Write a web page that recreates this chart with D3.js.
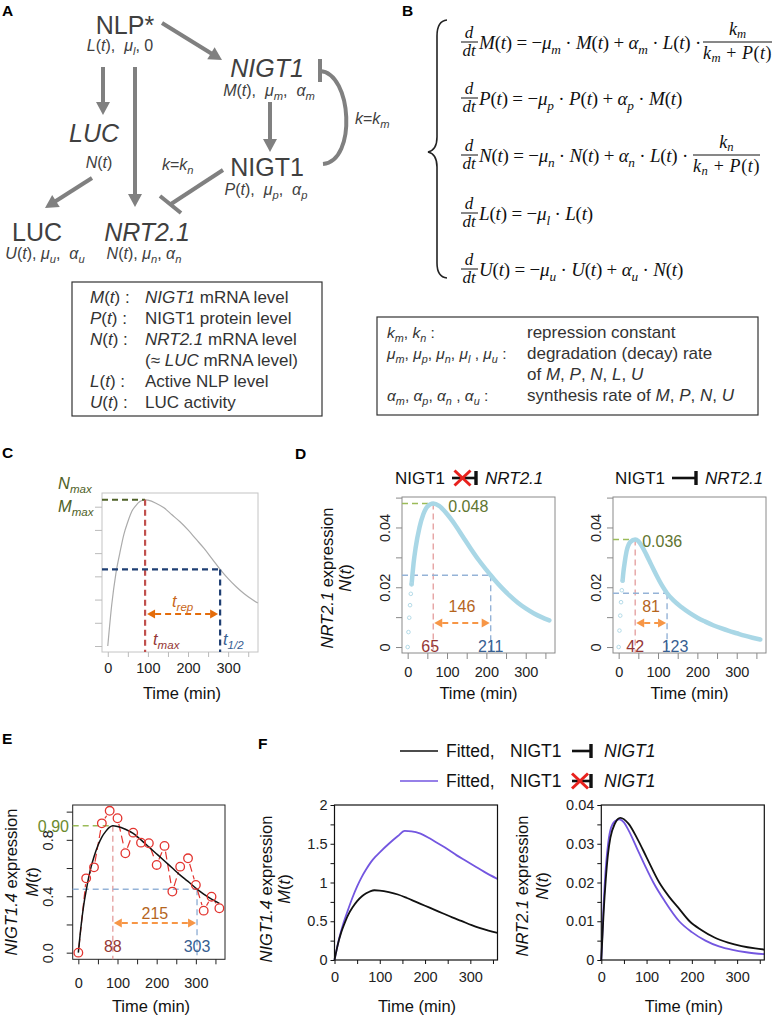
<!DOCTYPE html>
<html><head><meta charset="utf-8">
<script src="https://cdn.jsdelivr.net/npm/d3@7"></script>
<style>body{margin:0;background:#fff}svg{display:block}text{white-space:pre}</style>
</head><body>
<svg id="chart" width="773" height="1016"></svg>
<script>
// ================= DATA =================
const minuteTicks = [0, 50, 100, 150, 200, 250, 300, 350];
const minuteLabels = [0, 100, 200, 300];

// C: schematic curve (arbitrary units)
const schemTime  = [0, 10, 20, 30, 40, 50, 60, 70, 80, 93, 100, 120, 140, 160, 180, 200, 220, 240, 260, 280, 300, 320, 340, 360, 374];
const schemValue = [0, 1.8, 3.1, 4.0, 4.8, 5.35, 5.8, 6.05, 6.22, 6.3, 6.28, 6.15, 5.95, 5.65, 5.35, 5.0, 4.6, 4.2, 3.75, 3.3, 2.9, 2.55, 2.25, 2.0, 1.85];
const schemYTicks = [0, 1, 2, 3, 4, 5, 6];
const schemTmax = 93, schemThalf = 280, schemPeak = 6.3, schemHalf = 3.3, schemMmax = 6;

// D: NRT2.1 simulated N(t)
const dFreeTime = [0, 2, 4, 6, 8, 10, 12, 15, 20, 30, 40, 50, 65, 80, 100, 120, 140, 160, 180, 200, 211, 220, 240, 260, 280, 300, 320, 340, 360];
const dFreeN    = [0, 0.005, 0.0098, 0.014, 0.0178, 0.021, 0.024, 0.028, 0.033, 0.040, 0.0445, 0.047, 0.048, 0.0472, 0.0445, 0.041, 0.037, 0.033, 0.0292, 0.0258, 0.024, 0.0226, 0.0197, 0.0171, 0.0148, 0.0129, 0.0113, 0.0100, 0.0089];
const dFreePeakT = 65, dFreePeak = 0.048, dFreeHalfT = 211, dFreeHalf = 0.024, dFreeTrep = 146;
const dRepTime = [0, 2, 4, 6, 8, 10, 12, 15, 20, 30, 42, 50, 60, 70, 80, 90, 100, 110, 123, 140, 160, 180, 200, 220, 240, 260, 280, 300, 320, 340, 360];
const dRepN    = [0, 0.0055, 0.0105, 0.015, 0.019, 0.0222, 0.025, 0.028, 0.032, 0.0352, 0.036, 0.0354, 0.0335, 0.031, 0.0283, 0.0256, 0.023, 0.0206, 0.018, 0.0155, 0.0133, 0.0114, 0.0098, 0.0085, 0.0073, 0.0063, 0.0054, 0.0046, 0.0038, 0.0031, 0.0025];
const dRepPeakT = 42, dRepPeak = 0.036, dRepHalfT = 123, dRepHalf = 0.018, dRepTrep = 81;
const dYTicks = [0, 0.01, 0.02, 0.03, 0.04, 0.05];
const dYLabels = [0, 0.02, 0.04];

// E: NIGT1.4 observed and fitted
const eObsTime = [0, 20, 40, 60, 80, 100, 120, 140, 160, 180, 200, 220, 240, 260, 280, 300, 320, 340, 360];
const eObsM    = [0, 0.527, 0.605, 0.917, 1.006, 0.953, 0.705, 0.851, 0.78, 0.776, 0.622, 0.757, 0.433, 0.61, 0.669, 0.48, 0.298, 0.397, 0.315];
const fitTime = [0, 5, 10, 15, 20, 30, 40, 50, 60, 70, 80, 88, 100, 120, 140, 160, 180, 200, 220, 240, 260, 280, 303, 320, 340, 360];
const fitM    = [0, 0.14, 0.26, 0.36, 0.44, 0.58, 0.68, 0.76, 0.82, 0.86, 0.89, 0.90, 0.895, 0.875, 0.845, 0.80, 0.75, 0.70, 0.65, 0.60, 0.55, 0.505, 0.45, 0.415, 0.38, 0.35];
const ePeakT = 88, ePeak = 0.90, eHalfT = 303, eHalf = 0.45, eTrep = 215;
const eYTicks = [0, 0.2, 0.4, 0.6, 0.8, 1.0];
const eYLabels = [0, 0.4, 0.8];

// F: fitted with / without NIGT1 self-repression
const fFreeMTime = [0, 10, 20, 30, 40, 50, 60, 70, 80, 90, 100, 120, 140, 155, 170, 190, 210, 230, 250, 270, 290, 310, 330, 360];
const fFreeM     = [0, 0.27, 0.48, 0.65, 0.81, 0.95, 1.07, 1.17, 1.26, 1.33, 1.39, 1.5, 1.6, 1.665, 1.66, 1.63, 1.57, 1.5, 1.43, 1.35, 1.28, 1.21, 1.14, 1.045];
const fRepNTime = [0, 5, 10, 15, 20, 30, 42, 60, 80, 100, 128, 150, 170, 195, 220, 250, 280, 310, 340, 360];
const fRepN     = [0, 0.012, 0.021, 0.0275, 0.0315, 0.0352, 0.0367, 0.0352, 0.0312, 0.0265, 0.020, 0.0163, 0.0135, 0.010, 0.0078, 0.0058, 0.0045, 0.0036, 0.0030, 0.0027];
const fFreeNTime = [0, 5, 10, 15, 20, 30, 40, 50, 60, 80, 100, 115, 140, 172, 200, 230, 260, 290, 320, 360];
const fFreeN     = [0, 0.014, 0.024, 0.030, 0.0335, 0.0358, 0.0363, 0.0355, 0.0335, 0.0285, 0.0235, 0.020, 0.0152, 0.010, 0.0072, 0.0050, 0.0035, 0.0026, 0.0020, 0.0015];
const fMTicks = [0, 0.25, 0.5, 0.75, 1, 1.25, 1.5, 1.75, 2];
const fMLabels = [0, 0.5, 1, 1.5, 2];
const fNTicks = [0, 0.005, 0.01, 0.015, 0.02, 0.025, 0.03, 0.035, 0.04];
const fNLabels = [0, 0.01, 0.02, 0.03, 0.04];

// text tables
const boxALabels = ['*M*(*t*) :', '*P*(*t*) :', '*N*(*t*) :', '', '*L*(*t*) :', '*U*(*t*) :'];
const boxADesc = ['*NIGT1* mRNA level', 'NIGT1 protein level', '*NRT2.1* mRNA level', '(≈ *LUC* mRNA level)', 'Active NLP level', 'LUC activity'];
const boxBLabels = ['*k_m*, *k_n* :', '*μ_m*, *μ_p*, *μ_n*, *μ_l* , *μ_u* :', '', '*α_m*, *α_p*, *α_n* , *α_u* :'];
const boxBDesc = ['repression constant', 'degradation (decay) rate', 'of *M*, *P*, *N*, *L*, *U*', 'synthesis rate of *M*, *P*, *N*, *U*'];
const eqMain = [
  '*M*(*t*) = −*μ_m* · *M*(*t*) + *α_m* · *L*(*t*) ·',
  '*P*(*t*) = −*μ_p* · *P*(*t*) + *α_p* · *M*(*t*)',
  '*N*(*t*) = −*μ_n* · *N*(*t*) + *α_n* · *L*(*t*) ·',
  '*L*(*t*) = −*μ_l* · *L*(*t*)',
  '*U*(*t*) = −*μ_u* · *U*(*t*) + *α_u* · *N*(*t*)'
];

// ================= HELPERS =================
const SANS = '"Liberation Sans", Arial, Helvetica, sans-serif';
const SERIF = '"Liberation Serif", "Times New Roman", serif';
const svg = d3.select('#chart');

function rich(parent, x, y, str, o = {}) {
  const size = o.size || 16;
  const t = parent.append('text').attr('x', x).attr('y', y)
    .attr('font-size', size).attr('text-anchor', o.anchor || 'start')
    .attr('fill', o.fill || '#222').attr('font-family', o.family || SANS);
  if (o.weight) t.attr('font-weight', o.weight);
  if (o.central) t.attr('dominant-baseline', 'central');
  if (o.rotate != null) t.attr('transform', `rotate(${o.rotate},${x},${y})`);
  let italic = !!o.italic, buf = '', shift = 0;
  const subShift = size * (o.subShift || 0.27), subSize = size * 0.7;
  function emit(text, sub) {
    if (!text) return;
    const ts = t.append('tspan').text(text).attr('font-style', italic ? 'italic' : 'normal');
    const want = sub ? subShift : 0;
    if (want !== shift) { ts.attr('dy', want - shift); shift = want; }
    if (sub) ts.attr('font-size', subSize);
  }
  for (let i = 0; i < str.length; i++) {
    const c = str[i];
    if (c === '\\') { buf += str[i + 1]; i++; continue; }
    if (c === '*') { emit(buf, false); buf = ''; italic = !italic; continue; }
    if (c === '_') {
      emit(buf, false); buf = '';
      let s = '';
      if (str[i + 1] === '{') { let j = i + 2; while (str[j] !== '}') { s += str[j]; j++; } i = j; }
      else { s = str[i + 1]; i++; }
      emit(s, true); continue;
    }
    buf += c;
  }
  emit(buf, false);
  return t;
}
function fitWidth(sel, target) {
  const n = sel.node();
  const L = n.getComputedTextLength();
  const chars = n.textContent.length;
  sel.attr('letter-spacing', ((target - L) / chars).toFixed(3));
}
function arrow(g, x1, y1, x2, y2, o = {}) {
  const len = o.head || 13, hw = o.hw || 7, col = o.color || '#808080';
  const dx = x2 - x1, dy = y2 - y1, L = Math.hypot(dx, dy), ux = dx / L, uy = dy / L;
  const bx = x2 - ux * len, by = y2 - uy * len;
  g.append('line').attr('x1', x1).attr('y1', y1).attr('x2', bx + ux).attr('y2', by + uy)
    .attr('stroke', col).attr('stroke-width', o.width || 4);
  g.append('path').attr('d', `M${x2},${y2}L${bx - uy * hw},${by + ux * hw}L${bx + uy * hw},${by - ux * hw}Z`).attr('fill', col);
}
function dblArrow(g, x1, x2, y, col) {
  const len = 8, hw = 4.5;
  g.append('line').attr('x1', x1 + len).attr('x2', x2 - len).attr('y1', y).attr('y2', y)
    .attr('stroke', col).attr('stroke-width', 2).attr('stroke-dasharray', '6,4');
  g.append('path').attr('d', `M${x1},${y}L${x1 + len},${y - hw}L${x1 + len},${y + hw}Z`).attr('fill', col);
  g.append('path').attr('d', `M${x2},${y}L${x2 - len},${y - hw}L${x2 - len},${y + hw}Z`).attr('fill', col);
}
function dash(g, x1, y1, x2, y2, col, w, da) {
  g.append('line').attr('x1', x1).attr('y1', y1).attr('x2', x2).attr('y2', y2)
    .attr('stroke', col).attr('stroke-width', w || 1.5).attr('stroke-dasharray', da || '6,4');
}
function frame(g, x, y, col, w) {
  const [x0, x1] = x.range(), [y0, y1] = y.range();
  g.append('rect').attr('x', x0).attr('y', y1).attr('width', x1 - x0).attr('height', y0 - y1)
    .attr('fill', 'none').attr('stroke', col).attr('stroke-width', w || 1);
}
function xAxis(g, x, yPix, o) {
  const ax = d3.axisBottom(x).tickValues(o.ticks).tickSize(o.tickSize).tickPadding(o.pad)
    .tickFormat(d => o.labels.includes(d) ? String(d) : '');
  const a = g.append('g').attr('transform', `translate(0,${yPix})`).call(ax);
  a.select('.domain').remove();
  a.selectAll('line').attr('stroke', o.color).attr('stroke-width', o.sw || 1);
  a.selectAll('text').attr('font-size', o.fs || 14.5).attr('fill', '#222').attr('font-family', SANS);
}
function yAxis(g, y, xPix, o) {
  const ax = d3.axisLeft(y).tickValues(o.ticks).tickSize(o.tickSize).tickPadding(o.pad || 3)
    .tickFormat(d => o.labels.includes(d) ? o.fmt(d) : '');
  const a = g.append('g').attr('transform', `translate(${xPix},0)`).call(ax);
  a.select('.domain').remove();
  a.selectAll('line').attr('stroke', o.color).attr('stroke-width', o.sw || 1);
  const tx = a.selectAll('text').attr('font-size', o.fs || 14.5).attr('fill', '#222').attr('font-family', SANS);
  if (o.rot) tx.attr('transform', 'rotate(-90)').attr('x', 0).attr('y', -o.off).attr('dy', null).attr('text-anchor', 'middle');
}
function yTitle(g, cx1, cx2, cy, l1, l2) {
  rich(g, cx1, cy, l1, { size: 16.5, anchor: 'middle', rotate: -90, central: true, fill: '#111' });
  rich(g, cx2, cy, l2, { size: 16.5, anchor: 'middle', rotate: -90, central: true, fill: '#111' });
}
function inhibitSym(g, x1, x2, y, crossed) {
  g.append('line').attr('x1', x1).attr('x2', x2).attr('y1', y).attr('y2', y).attr('stroke', '#111').attr('stroke-width', 2.6);
  g.append('line').attr('x1', x2 + 1).attr('x2', x2 + 1).attr('y1', y - 7).attr('y2', y + 7).attr('stroke', '#111').attr('stroke-width', 3.4);
  if (crossed) {
    const cx = (x1 + x2) / 2 - 1;
    g.append('line').attr('x1', cx - 8).attr('x2', cx + 8).attr('y1', y - 7.5).attr('y2', y + 7.5).attr('stroke', '#e8211d').attr('stroke-width', 3);
    g.append('line').attr('x1', cx - 8).attr('x2', cx + 8).attr('y1', y + 7.5).attr('y2', y - 7.5).attr('stroke', '#e8211d').attr('stroke-width', 3);
  }
}
function panelLabel(t, x, y) {
  svg.append('text').attr('x', x).attr('y', y).attr('font-family', SANS).attr('font-weight', 'bold')
    .attr('font-size', 15.5).attr('fill', '#000').text(t);
}

// ================= PANEL A =================
panelLabel('A', 2, 16);
const gA = svg.append('g');
const AC = '#404040', AG = '#808080';
rich(gA, 125, 34, 'NLP\\*', { size: 25, anchor: 'middle', fill: AC });
rich(gA, 120, 51, '*L*(*t*),  *μ_l*, 0', { size: 16, anchor: 'middle', fill: AC });
rich(gA, 267, 77, '*NIGT1*', { size: 25, anchor: 'middle', fill: AC });
rich(gA, 269, 96, '*M*(*t*),  *μ_m*,  *α_m*', { size: 16, anchor: 'middle', fill: AC });
rich(gA, 267, 176, 'NIGT1', { size: 25, anchor: 'middle', fill: AC });
rich(gA, 266, 195, '*P*(*t*),  *μ_p*,  *α_p*', { size: 16, anchor: 'middle', fill: AC });
rich(gA, 94, 142, '*LUC*', { size: 25, anchor: 'middle', fill: AC });
rich(gA, 99, 168, '*N*(*t*)', { size: 16, anchor: 'middle', fill: AC });
rich(gA, 37, 241, 'LUC', { size: 25, anchor: 'middle', fill: AC });
rich(gA, 45, 259, '*U*(*t*), *μ_u*,  *α_u*', { size: 16, anchor: 'middle', fill: AC });
rich(gA, 147, 241, '*NRT2.1*', { size: 25, anchor: 'middle', fill: AC });
rich(gA, 144, 259, '*N*(*t*), *μ_n*, *α_n*', { size: 16, anchor: 'middle', fill: AC });
rich(gA, 355, 124, '*k*=*k_m*', { size: 16, fill: AC });
rich(gA, 162, 170, '*k*=*k_n*', { size: 16, fill: AC });
arrow(gA, 162, 23, 222, 60);
arrow(gA, 270, 102, 270, 152);
arrow(gA, 103, 67, 103, 115);
arrow(gA, 135, 67, 135, 207);
arrow(gA, 92, 178, 45, 208);
// NIGT1 protein -| NIGT1 mRNA
gA.append('line').attr('x1', 320).attr('x2', 320).attr('y1', 59).attr('y2', 82).attr('stroke', AG).attr('stroke-width', 4);
gA.append('path').attr('d', 'M320,71 C352,73 357,161 323,164').attr('fill', 'none').attr('stroke', AG).attr('stroke-width', 4);
// NIGT1 protein -| NRT2.1
gA.append('line').attr('x1', 223).attr('y1', 170).attr('x2', 171).attr('y2', 204).attr('stroke', AG).attr('stroke-width', 4);
gA.append('line').attr('x1', 160).attr('y1', 196).attr('x2', 181).attr('y2', 213).attr('stroke', AG).attr('stroke-width', 4);
// box A
gA.append('rect').attr('x', 72).attr('y', 282).attr('width', 250).attr('height', 134).attr('fill', 'none').attr('stroke', '#333').attr('stroke-width', 1.2);
const boxAY = [303, 324, 345, 366, 387, 408];
boxALabels.forEach((s, i) => { if (s) rich(gA, 90, boxAY[i], s, { size: 17, fill: '#333' }); });
boxADesc.forEach((s, i) => rich(gA, 145, boxAY[i], s, { size: 17, fill: '#333' }));

// ================= PANEL B =================
panelLabel('B', 402, 16);
const gB = svg.append('g');
gB.append('path').attr('d', 'M447,20 Q437,21 437,36 L437,137 Q437,150 428,152 Q437,154 437,167 L437,263 Q437,277 447,278')
  .attr('fill', 'none').attr('stroke', '#222').attr('stroke-width', 1.6);
const eqBars = [42, 98, 155, 213, 269];
const eqEnd = [701, 682, 688, 593, 683];
eqMain.forEach((s, i) => {
  const b = eqBars[i];
  rich(gB, 469, b - 4, '*d*', { size: 17, anchor: 'middle', family: SERIF, fill: '#111' });
  rich(gB, 469, b + 14, '*dt*', { size: 17, anchor: 'middle', family: SERIF, fill: '#111' });
  gB.append('line').attr('x1', 461).attr('x2', 478).attr('y1', b).attr('y2', b).attr('stroke', '#111').attr('stroke-width', 1);
  const t = rich(gB, 479, b + 6.5, s, { size: 19, family: SERIF, fill: '#111' });
  fitWidth(t, eqEnd[i] - 479);
});
[[0, '*k_m*', '*k_m* + *P*(*t*)', 703, 772], [2, '*k_n*', '*k_n* + *P*(*t*)', 693, 760]].forEach(([i, num, den, x0, x1]) => {
  const b = eqBars[i], cx = (x0 + x1) / 2;
  rich(gB, cx, b - 7, num, { size: 18, anchor: 'middle', family: SERIF, fill: '#111', subShift: 0.18 });
  const d = rich(gB, cx, b + 17, den, { size: 18, anchor: 'middle', family: SERIF, fill: '#111', subShift: 0.18 });
  fitWidth(d, x1 - x0);
  gB.append('line').attr('x1', x0).attr('x2', x1).attr('y1', b).attr('y2', b).attr('stroke', '#111').attr('stroke-width', 1);
});
gB.append('rect').attr('x', 377).attr('y', 317).attr('width', 381).attr('height', 98).attr('fill', 'none').attr('stroke', '#333').attr('stroke-width', 1.2);
const boxBY = [338, 359, 380, 401];
boxBLabels.forEach((s, i) => { if (s) rich(gB, 387, boxBY[i], s, { size: 15.5, fill: '#333' }); });
boxBDesc.forEach((s, i) => rich(gB, 527, boxBY[i], s, { size: 17, fill: '#333' }));

// ================= PANEL C =================
panelLabel('C', 2, 458);
const gC = svg.append('g');
const xC = d3.scaleLinear().domain([-14.4, 374.4]).range([102, 258]);
const yC = d3.scaleLinear().domain([-0.258, 6.59]).range([652, 493]);
frame(gC, xC, yC, '#c4c4c4', 1);
xAxis(gC, xC, 652, { ticks: minuteTicks, labels: minuteLabels, tickSize: 5, pad: 6, color: '#bbb' });
yAxis(gC, yC, 102, { ticks: schemYTicks, labels: [], tickSize: 7, color: '#bbb', fmt: String });
gC.append('path').datum(schemTime.map((t, i) => [t, schemValue[i]]))
  .attr('d', d3.line().x(d => xC(d[0])).y(d => yC(d[1])).curve(d3.curveMonotoneX))
  .attr('fill', 'none').attr('stroke', '#ababab').attr('stroke-width', 1.2);
dash(gC, xC.range()[0], yC(schemPeak), xC(schemTmax), yC(schemPeak), '#4f6228', 2.2);
dash(gC, xC(schemTmax), yC(schemPeak), xC(schemTmax), 652, '#c0504d', 2.2);
dash(gC, xC.range()[0], yC(schemHalf), xC(schemThalf), yC(schemHalf), '#1f3f73', 2.2);
dash(gC, xC(schemThalf), yC(schemHalf), xC(schemThalf), 652, '#1f3f73', 2.2);
dblArrow(gC, xC(schemTmax) + 2, xC(schemThalf) - 2, 614, '#e46c0a');
rich(gC, 58, 489, '*N_{max}*', { size: 16.5, fill: '#4f6228' });
rich(gC, 58, yC(schemMmax) + 5, '*M_{max}*', { size: 16.5, fill: '#4f6228' });
rich(gC, 172, 607, '*t_{rep}*', { size: 16.5, fill: '#c8661a' });
rich(gC, 153, 645, '*t_{max}*', { size: 16.5, fill: '#953735' });
rich(gC, 223, 645, '*t_{1/2}*', { size: 16.5, fill: '#376092' });
rich(gC, 182, 699, 'Time (min)', { size: 16.5, anchor: 'middle', fill: '#111' });

// ================= PANEL D =================
panelLabel('D', 295, 459);
const gD = svg.append('g');
const yD = d3.scaleLinear().domain([-0.002, 0.0502]).range([653, 497]);
function dPanel(x0, x1, time, vals, peakT, peak, halfT, half, trep, titleX, crossed, lab) {
  const x = d3.scaleLinear().domain([-14.4, 374.4]).range([x0, x1]);
  frame(gD, x, yD, '#8a8a8a', 1);
  xAxis(gD, x, 653, { ticks: minuteTicks, labels: minuteLabels, tickSize: 6, pad: 8, color: '#8a8a8a' });
  yAxis(gD, yD, x0, { ticks: dYTicks, labels: dYLabels, tickSize: 6, color: '#8a8a8a', rot: true, off: 12, fmt: d => String(d) });
  const pts = time.map((t, i) => [t, vals[i]]);
  dash(gD, x0, yD(peak), x(peakT), yD(peak), '#9bbb59', 1.4);
  dash(gD, x(peakT), yD(peak), x(peakT), 653, '#e6a3a3', 1.4);
  dash(gD, x0, yD(half), x(halfT), yD(half), '#95b3d7', 1.4);
  dash(gD, x(halfT), yD(half), x(halfT), 653, '#95b3d7', 1.4);
  gD.append('path').datum(pts.filter(d => d[0] >= 10))
    .attr('d', d3.line().x(d => x(d[0])).y(d => yD(d[1])).curve(d3.curveMonotoneX))
    .attr('fill', 'none').attr('stroke', '#a9d7e6').attr('stroke-width', 4.5).attr('stroke-linecap', 'round');
  gD.selectAll(null).data(pts.filter(d => d[0] <= 10)).join('circle')
    .attr('cx', d => x(d[0])).attr('cy', d => yD(d[1])).attr('r', 1.8)
    .attr('fill', 'none').attr('stroke', '#b4dbe8').attr('stroke-width', 1);
  dblArrow(gD, x(peakT) + 1, x(halfT) - 1, 623, '#f79646');
  rich(gD, (x(peakT) + x(halfT)) / 2, 612, String(trep), { size: 16, anchor: 'middle', fill: '#b5651d' });
  rich(gD, x(peakT) + lab.pk, yD(peak) + 8, String(peak), { size: 16, fill: '#5f7530' });
  rich(gD, x(peakT) + lab.t1, 652, String(peakT), { size: 16, anchor: 'middle', fill: '#953735' });
  rich(gD, x(halfT) + lab.t2, 652, String(halfT), { size: 16, anchor: 'middle', fill: '#376092' });
  rich(gD, (x0 + x1) / 2, 699, 'Time (min)', { size: 16.5, anchor: 'middle', fill: '#111' });
  rich(gD, titleX, 484, 'NIGT1', { size: 17, fill: '#111' });
  inhibitSym(gD, titleX + 57, titleX + 80, 478, crossed);
  rich(gD, titleX + 90, 484, '*NRT2.1*', { size: 17, fill: '#111' });
}
dPanel(402, 555, dFreeTime, dFreeN, dFreePeakT, dFreePeak, dFreeHalfT, dFreeHalf, dFreeTrep, 395, true, { pk: 15, t1: -3, t2: 0 });
dPanel(613, 766, dRepTime, dRepN, dRepPeakT, dRepPeak, dRepHalfT, dRepHalf, dRepTrep, 615, false, { pk: 7, t1: 0, t2: 8 });
yTitle(gD, 327, 345, 578, '*NRT2.1* expression', '*N*(*t*)');

// ================= PANEL E =================
panelLabel('E', 2, 744);
const gE = svg.append('g');
const xE = d3.scaleLinear().domain([-14.4, 374.4]).range([72.7, 225]);
const yE = d3.scaleLinear().domain([-0.047, 1.047]).range([959.3, 805]);
frame(gE, xE, yE, '#222', 1);
xAxis(gE, xE, 959.3, { ticks: minuteTicks, labels: minuteLabels, tickSize: 5, pad: 13, color: '#222' });
yAxis(gE, yE, 72.7, { ticks: eYTicks, labels: eYLabels, tickSize: 6, color: '#222', rot: true, off: 20, fmt: d3.format('.1f') });
dash(gE, 72.7, yE(ePeak), xE(ePeakT), yE(ePeak), '#9bbb59', 1.4);
dash(gE, xE(ePeakT), yE(ePeak), xE(ePeakT), 959.3, '#e6a3a3', 1.4);
dash(gE, 72.7, yE(eHalf), xE(eHalfT), yE(eHalf), '#95b3d7', 1.4);
dash(gE, xE(eHalfT), yE(eHalf), xE(eHalfT), 959.3, '#95b3d7', 1.4);
dblArrow(gE, xE(ePeakT) + 1, xE(eHalfT) - 1, 923, '#f79646');
rich(gE, (xE(ePeakT) + xE(eHalfT)) / 2, 919, String(eTrep), { size: 16, anchor: 'middle', fill: '#b5651d' });
rich(gE, xE(ePeakT), 952, String(ePeakT), { size: 16, anchor: 'middle', fill: '#953735' });
rich(gE, xE(eHalfT), 952, String(eHalfT), { size: 16, anchor: 'middle', fill: '#376092' });
rich(gE, 69, yE(ePeak) + 6, ePeak.toFixed(2), { size: 16, anchor: 'end', fill: '#6b8a2e' });
const eObs = eObsTime.map((t, i) => [xE(t), yE(eObsM[i])]);
const rC = 4.3;
for (let i = 0; i < eObs.length - 1; i++) {
  const [ax, ay] = eObs[i], [bx, by] = eObs[i + 1];
  const L = Math.hypot(bx - ax, by - ay);
  if (L < 2 * rC + 3) continue;
  const ux = (bx - ax) / L, uy = (by - ay) / L;
  dash(gE, ax + ux * (rC + 1.5), ay + uy * (rC + 1.5), bx - ux * (rC + 1.5), by - uy * (rC + 1.5), '#e3342f', 1.2, '8,4');
}
gE.append('path').datum(fitTime.map((t, i) => [t, fitM[i]]))
  .attr('d', d3.line().x(d => xE(d[0])).y(d => yE(d[1])).curve(d3.curveMonotoneX))
  .attr('fill', 'none').attr('stroke', '#111').attr('stroke-width', 1.5);
gE.selectAll(null).data(eObs).join('circle').attr('cx', d => d[0]).attr('cy', d => d[1]).attr('r', rC)
  .attr('fill', 'none').attr('stroke', '#e3342f').attr('stroke-width', 1.3);
rich(gE, 151, 1012, 'Time (min)', { size: 16.5, anchor: 'middle', fill: '#111' });
yTitle(gE, 11, 31.5, 882, '*NIGT1.4* expression', '*M*(*t*)');

// ================= PANEL F =================
panelLabel('F', 258, 749);
const gF = svg.append('g');
const PURPLE = '#7356e0';
// legend
gF.append('line').attr('x1', 400).attr('x2', 438).attr('y1', 751).attr('y2', 751).attr('stroke', '#111').attr('stroke-width', 1.5);
gF.append('line').attr('x1', 400).attr('x2', 438).attr('y1', 781).attr('y2', 781).attr('stroke', PURPLE).attr('stroke-width', 1.5);
[[751, false], [781, true]].forEach(([y, crossed]) => {
  rich(gF, 446, y + 6, 'Fitted,', { size: 17.5, fill: '#111' });
  rich(gF, 510, y + 6, 'NIGT1', { size: 17.5, fill: '#111' });
  inhibitSym(gF, 572, 590, y, crossed);
  rich(gF, 604, y + 6, '*NIGT1*', { size: 17.5, fill: '#111' });
});
const xF1 = d3.scaleLinear().domain([0, 360]).range([334.5, 497.5]);
const yF1 = d3.scaleLinear().domain([0, 2]).range([960, 805]);
const xF2 = d3.scaleLinear().domain([0, 360]).range([601.3, 764.3]);
const yF2 = d3.scaleLinear().domain([0, 0.04]).range([960, 805]);
function fLine(x, y, time, vals, col) {
  gF.append('path').datum(time.map((t, i) => [t, vals[i]]))
    .attr('d', d3.line().x(d => x(d[0])).y(d => y(d[1])).curve(d3.curveMonotoneX))
    .attr('fill', 'none').attr('stroke', col).attr('stroke-width', 1.8);
}
fLine(xF1, yF1, fFreeMTime, fFreeM, PURPLE);
fLine(xF1, yF1, fitTime, fitM, '#111');
fLine(xF2, yF2, fFreeNTime, fFreeN, PURPLE);
fLine(xF2, yF2, fRepNTime, fRepN, '#111');
[[xF1, yF1, fMTicks, fMLabels], [xF2, yF2, fNTicks, fNLabels]].forEach(([x, y, tk, lb]) => {
  frame(gF, x, y, '#111', 1.2);
  xAxis(gF, x, 960, { ticks: minuteTicks, labels: minuteLabels, tickSize: 4, pad: 8, color: '#111' });
  yAxis(gF, y, x.range()[0], { ticks: tk, labels: lb, tickSize: 4, pad: 3, color: '#111', fmt: d => String(d) });
  rich(gF, (x.range()[0] + x.range()[1]) / 2 + 1, 1012, 'Time (min)', { size: 16.5, anchor: 'middle', fill: '#111' });
});
yTitle(gF, 265.5, 284, 889, '*NIGT1.4* expression', '*M*(*t*)');
yTitle(gF, 522, 542, 886, '*NRT2.1* expression', '*N*(*t*)');
</script>
</body></html>
